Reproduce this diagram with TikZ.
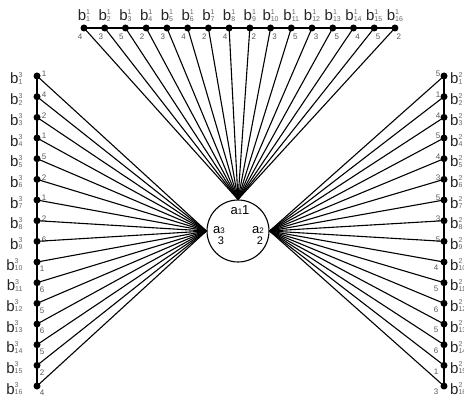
\documentclass[tikz,border=0pt]{standalone}
\usepackage{fontspec}
\setmainfont{Liberation Sans}
\newcommand\smallg{\fontsize{7}{7}\selectfont\color{black!60}}
\newcommand\bname[2]{b\rlap{\raisebox{6.5pt}{\smallg #1}}{\raisebox{-0.5pt}{\smallg #2}}}
\begin{document}
\begin{tikzpicture}[x=1pt,y=-1pt,
  dot/.style={circle,fill=black,inner sep=0pt,minimum size=7pt},
  num/.style={font=\fontsize{8}{8}\selectfont,text=black!65,inner sep=0pt},
  blabel/.style={font=\fontsize{15}{15}\selectfont,inner sep=0pt,text=black!85,text height=13pt,text depth=0pt},
  edge/.style={line width=1.1pt},
  axisline/.style={line width=1.6pt}]
\useasboundingbox (0,0) rectangle (464,401);
% circle
\node[draw,circle,minimum size=62pt,line width=1.1pt,inner sep=0pt] (c) at (238,231) {};
\node[font=\fontsize{13}{13}\selectfont,inner sep=0pt] (l1) at (240,210) {a{\fontsize{8}{8}\selectfont 1}1};
\node[font=\fontsize{13}{13}\selectfont,inner sep=0pt] (l3) at (219,230) {a{\fontsize{8}{8}\selectfont 3}};
\node[font=\fontsize{11}{11}\selectfont,inner sep=0pt] (n3) at (221,241) {3};
\node[font=\fontsize{13}{13}\selectfont,inner sep=0pt] (l2) at (258,230) {a{\fontsize{8}{8}\selectfont 2}};
\node[font=\fontsize{11}{11}\selectfont,inner sep=0pt] (n2) at (260,241) {2};
% top row
\foreach \n [count=\i] in {4,3,5,2,3,4,2,4,2,3,5,3,5,4,5,2} {
  \pgfmathsetmacro\xx{84+(\i-1)*20.73}
  \pgfmathsetmacro\off{\i<9 ? -4 : 4}
  \node[dot] (t\i) at (\xx,28) {};
  \node[blabel,anchor=base] (tl\i) at (\xx,21) {\bname{1}{\i}};
  \node[num] (tn\i) at (\xx+\off,37) {\n};
}
\draw[axisline] (t1.center) -- (t16.center);
% left column
\foreach \n [count=\i] in {1,4,2,1,5,2,1,2,6,1,6,5,6,5,2,4} {
  \pgfmathsetmacro\yy{76+(\i-1)*20.67}
  \pgfmathsetmacro\off{\i<10 ? -2 : 7}
  \pgfmathsetmacro\xo{\i<10 ? 44 : 42}
  \node[dot] (lf\i) at (37,\yy) {};
  \node[blabel,anchor=base east] (ll\i) at (31,\yy+8) {\bname{3}{\i}\phantom{0}};
  \node[num] (ln\i) at (\xo,\yy+\off) {\n};
}
\draw[axisline] (lf1.center) -- (lf16.center);
% right column
\foreach \n [count=\i] in {5,1,4,5,4,3,5,3,5,4,5,6,5,6,1,3} {
  \pgfmathsetmacro\yy{76+(\i-1)*20.67}
  \pgfmathsetmacro\off{\i<10 ? -2 : 6}
  \pgfmathsetmacro\xo{\i<10 ? 438 : 436}
  \node[dot] (rt\i) at (444,\yy) {};
  \node[blabel,anchor=base west] (rl\i) at (450,\yy+8) {\bname{2}{\i}};
  \node[num] (rn\i) at (\xo,\yy+\off) {\n};
}
\draw[axisline] (rt1.center) -- (rt16.center);
% edges
\foreach \i in {1,...,16} {
  \draw[edge] (t\i.center) -- (c.north);
  \draw[edge] (lf\i.center) -- (c.west);
  \draw[edge] (rt\i.center) -- (c.east);
}
\end{tikzpicture}
\end{document}
